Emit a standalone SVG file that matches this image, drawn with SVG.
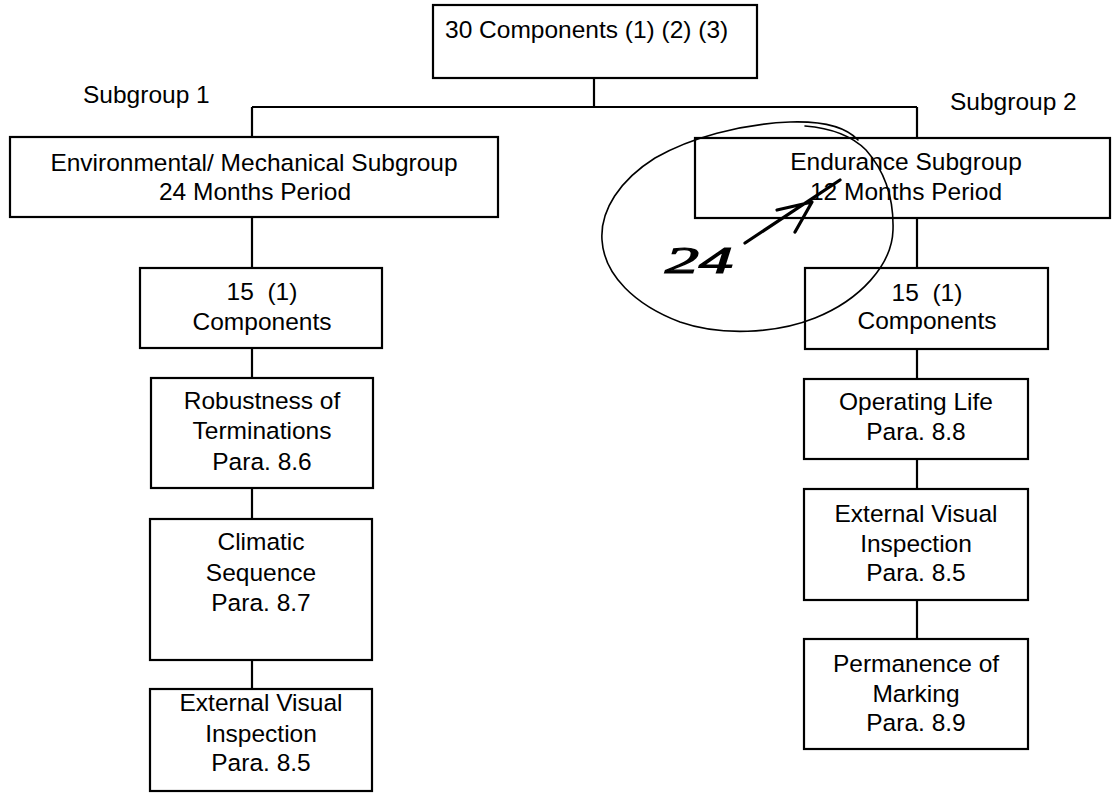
<svg xmlns="http://www.w3.org/2000/svg" width="1113" height="801" viewBox="0 0 1113 801">
<style>
.box{fill:#fff;stroke:#000;stroke-width:2.2}
.ln{fill:none;stroke:#000;stroke-width:2.2}
text{font-family:"Liberation Sans",Arial,sans-serif;font-size:24.5px;fill:#000}
.c{text-anchor:middle}
.hand{fill:none;stroke:#000;stroke-linecap:round;stroke-linejoin:round}
.hw{font-family:"Liberation Serif","Times New Roman",serif;font-style:italic;font-size:38px;stroke:#000;stroke-width:1.2}
</style>
<rect width="1113" height="801" fill="#fff"/>
<g id="connectors">
<path class="ln" d="M594,78V107M252,107H917M252,107V137M917,107V138"/>
<path class="ln" d="M252,217V268M252,348V378M252,488V519M252,660V689"/>
<path class="ln" d="M917,218V268M917,349V379M917,459V489M917,600V639"/>
</g>
<g id="top">
<rect class="box" x="433" y="5" width="324" height="73"/>
<text x="445" y="38">30 Components (1) (2) (3)</text>
</g>
<g id="subgroup1-label"><text x="83" y="103">Subgroup 1</text></g>
<g id="subgroup2-label"><text x="950" y="110">Subgroup 2</text></g>
<g id="env">
<rect class="box" x="10" y="137" width="488" height="80"/>
<text class="c" x="254" y="171">Environmental/ Mechanical Subgroup</text>
<text class="c" x="255" y="200">24 Months Period</text>
</g>
<g id="endurance">
<rect class="box" x="695" y="138" width="415" height="80"/>
<text class="c" x="906" y="170">Endurance Subgroup</text>
<text class="c" x="906" y="200">12 Months Period</text>
</g>
<g id="left-count">
<rect class="box" x="140" y="268" width="242" height="80"/>
<text class="c" x="262" y="300">15&#160; (1)</text>
<text class="c" x="262" y="330">Components</text>
</g>
<g id="robustness">
<rect class="box" x="151" y="378" width="222" height="110"/>
<text class="c" x="262" y="409">Robustness of</text>
<text class="c" x="262" y="439">Terminations</text>
<text class="c" x="262" y="470">Para. 8.6</text>
</g>
<g id="climatic">
<rect class="box" x="150" y="519" width="222" height="141"/>
<text class="c" x="261" y="550">Climatic</text>
<text class="c" x="261" y="581">Sequence</text>
<text class="c" x="261" y="611">Para. 8.7</text>
</g>
<g id="ext-left">
<rect class="box" x="150" y="689" width="222" height="102"/>
<text class="c" x="261" y="711">External Visual</text>
<text class="c" x="261" y="742">Inspection</text>
<text class="c" x="261" y="771">Para. 8.5</text>
</g>
<g id="right-count">
<rect class="box" x="805" y="268" width="243" height="81"/>
<text class="c" x="927" y="301">15&#160; (1)</text>
<text class="c" x="927" y="329">Components</text>
</g>
<g id="operating">
<rect class="box" x="804" y="379" width="224" height="80"/>
<text class="c" x="916" y="410">Operating Life</text>
<text class="c" x="916" y="440">Para. 8.8</text>
</g>
<g id="ext-right">
<rect class="box" x="804" y="489" width="224" height="111"/>
<text class="c" x="916" y="522">External Visual</text>
<text class="c" x="916" y="552">Inspection</text>
<text class="c" x="916" y="581">Para. 8.5</text>
</g>
<g id="permanence">
<rect class="box" x="804" y="639" width="224" height="110"/>
<text class="c" x="916" y="672">Permanence of</text>
<text class="c" x="916" y="702">Marking</text>
<text class="c" x="916" y="731">Para. 8.9</text>
</g>
<g id="annotation">
<path class="hand" stroke-width="1.6" d="M858,140 C845,126 820,121 790,122 C740,124 690,138 655,158 C620,180 600,210 602,240 C604,275 635,305 680,322 C720,336 775,334 815,318 C860,300 892,265 893,230 C894,195 882,168 866,150 C852,136 830,128 805,126"/>
<path class="hand" stroke-width="3.2" d="M745,243 L840,180 M777,210 L812,202 L795,232"/>
<text class="hw" x="665" y="273" textLength="68" lengthAdjust="spacingAndGlyphs">24</text>
</g>
</svg>
